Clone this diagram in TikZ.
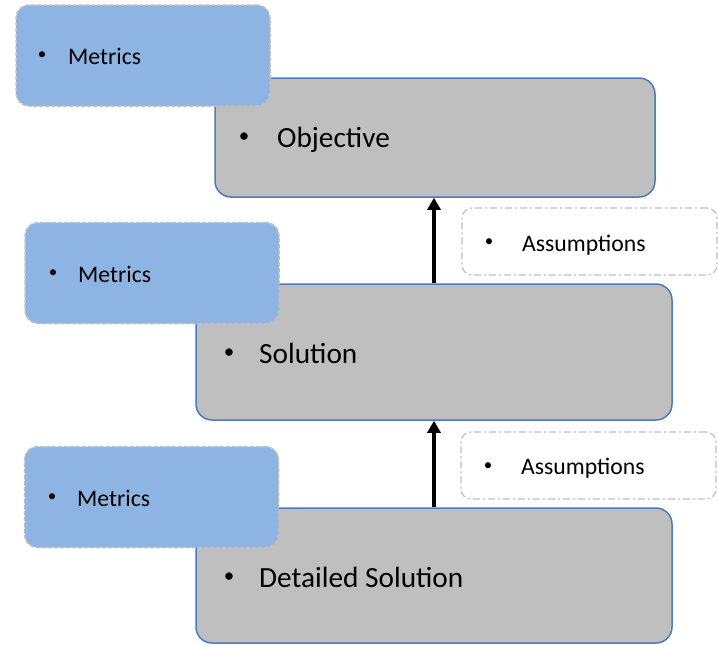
\documentclass[tikz,border=0pt]{standalone}
\usepackage{fontspec}
\setmainfont{Carlito}
\usetikzlibrary{arrows.meta}
\definecolor{boxgray}{HTML}{BFBFBF}
\definecolor{boxblue}{HTML}{4A7EBB}
\definecolor{metfill}{HTML}{8EB4E3}
\definecolor{dashgray}{HTML}{BFBFBF}
\begin{document}
\begin{tikzpicture}[x=1pt,y=-1pt,
  mainbox/.style={draw=boxblue,fill=boxgray,line width=1.5pt,rounded corners=16pt,inner sep=0pt},
  metbox/.style={draw=dashgray,fill=metfill,line width=1.5pt,dash pattern=on 4pt off 2pt,rounded corners=13pt,inner sep=0pt,minimum width=254pt,minimum height=101pt},
  asbox/.style={draw=dashgray,fill=white,line width=1.2pt,dash pattern=on 7pt off 3pt on 2pt off 3pt,rounded corners=10pt,inner sep=0pt,minimum width=255pt,minimum height=67pt},
  bigtxt/.style={anchor=base west,inner sep=0pt,font=\fontsize{29.3}{34}\selectfont},
  smalltxt/.style={anchor=base west,inner sep=0pt,font=\fontsize{23.7}{28}\selectfont},
  bigbul/.style={anchor=center,inner sep=0pt,font=\fontsize{21}{25}\selectfont},
  smallbul/.style={anchor=center,inner sep=0pt,font=\fontsize{17}{20}\selectfont},
  arr/.style={line width=3.5pt,-{Triangle[length=12pt,width=13pt]}}]
\useasboundingbox (0,0) rectangle (718,645);
% main boxes
\node[mainbox,minimum width=440pt,minimum height=119pt] (obj) at (435,137.5) {};
\node[mainbox,minimum width=476pt,minimum height=136pt] (sol) at (434,352) {};
\node[mainbox,minimum width=476pt,minimum height=135pt] (det) at (434,575.5) {};
% metrics boxes
\node[metbox] (m1) at (143,55.5) {};
\node[metbox] (m2) at (152,273) {};
\node[metbox] (m3) at (151.5,497) {};
% assumptions boxes
\node[asbox] (a1) at (589.5,241.5) {};
\node[asbox] (a2) at (588.5,465.5) {};
% arrows
\draw[arr] (sol.north) -- (obj.south -| sol.north);
\draw[arr] (det.north) -- (sol.south -| det.north);
% texts
\node[bigbul] (ob) at (244,138) {\textbullet};
\node[bigtxt] (ot) at (277,147) {Objective};
\node[bigbul] (sb) at (229,354) {\textbullet};
\node[bigtxt] (st) at (259,363) {Solution};
\node[bigbul] (db) at (229,578) {\textbullet};
\node[bigtxt] (dt) at (259,587) {Detailed Solution};
\node[smallbul] (m1b) at (42,56) {\textbullet};
\node[smalltxt] (m1t) at (68,64) {Metrics};
\node[smallbul] (m2b) at (53,274) {\textbullet};
\node[smalltxt] (m2t) at (78,282) {Metrics};
\node[smallbul] (m3b) at (52,498) {\textbullet};
\node[smalltxt] (m3t) at (77,506) {Metrics};
\node[smallbul] (a1b) at (489,243) {\textbullet};
\node[smalltxt] (a1t) at (522,251) {Assumptions};
\node[smallbul] (a2b) at (488,467) {\textbullet};
\node[smalltxt] (a2t) at (521,474) {Assumptions};
\end{tikzpicture}
\end{document}
